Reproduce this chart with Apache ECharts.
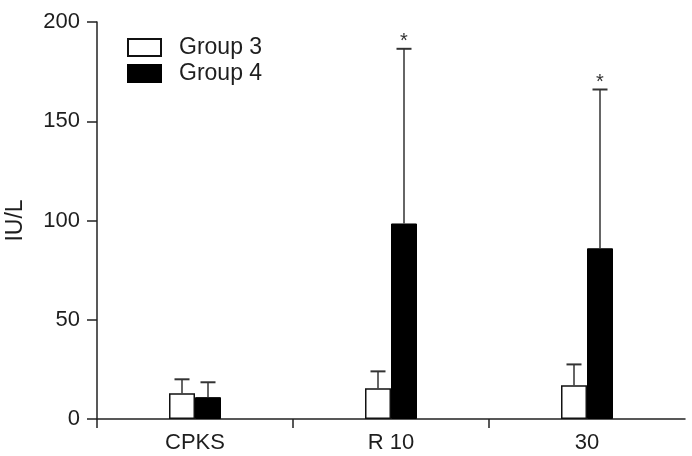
<!DOCTYPE html>
<html>
<head>
<meta charset="utf-8">
<script src="https://cdn.jsdelivr.net/npm/echarts@6/dist/echarts.min.js"></script>
<style>
html,body{margin:0;padding:0;background:#fff;}
#chart{width:692px;height:456px;}
</style>
</head>
<body>
<div id="chart"></div>
<script>
var categories = ['CPKS', 'R 10', '30'];
var seriesNames = ['Group 3', 'Group 4'];
var group3Mean = [13, 15.5, 17];
var group3SD = [7, 8.5, 10.5];
var group4Mean = [11, 98.5, 86];
var group4SD = [7.5, 88, 80];
var group3Sig = ['', '', ''];
var group4Sig = ['', '*', '*'];
var yTicks = [0, 50, 100, 150, 200];

var FONT = 'Liberation Sans, Arial, sans-serif';
var TXT = '#1e1e1e';
var BAR_W = 26;

function errData(mean, sd) {
  return categories.map(function (c, i) {
    return [i, mean[i], mean[i] + sd[i]];
  });
}

function makeErrRender(side, sig) {
  return function (params, api) {
    var idx = api.value(0);
    var top = api.coord([idx, api.value(2)]);
    var base = api.coord([idx, api.value(1)]);
    var x = top[0] + side * BAR_W / 2;
    var capHalf = 7.5;
    var children = [
      { type: 'line', shape: { x1: x, y1: base[1], x2: x, y2: top[1] },
        style: { stroke: '#333', lineWidth: 1.5 } },
      { type: 'line', shape: { x1: x - capHalf, y1: top[1], x2: x + capHalf, y2: top[1] },
        style: { stroke: '#333', lineWidth: 2 } }
    ];
    var s = sig[params.dataIndex];
    if (s) {
      children.push({ type: 'text', x: x, y: top[1] + 3,
        style: { text: s, fill: '#333', font: '20px ' + FONT, align: 'center', verticalAlign: 'bottom' } });
    }
    return { type: 'group', children: children };
  };
}

var chart = echarts.init(document.getElementById('chart'), null, { renderer: 'canvas' });
chart.setOption({
  animation: false,
  backgroundColor: '#fff',
  textStyle: { fontFamily: FONT },
  grid: { left: 97, right: 7, top: 22, bottom: 37, containLabel: false, outerBoundsMode: 'none' },
  legend: {
    data: seriesNames,
    orient: 'vertical',
    left: 127, top: 36,
    padding: 0,
    itemWidth: 33, itemHeight: 17, itemGap: 3,
    icon: 'rect',
    textStyle: { fontSize: 23, color: TXT, fontFamily: FONT, lineHeight: 17, padding: [0, 0, 0, 13] }
  },
  xAxis: [{
    type: 'category',
    data: categories,
    boundaryGap: true,
    axisLine: { show: false },
    axisTick: { show: false },
    axisLabel: { fontSize: 22, color: TXT, margin: 13, fontFamily: FONT }
  }, {
    type: 'value',
    min: 0, max: 3, interval: 1,
    position: 'bottom',
    axisLine: { show: true, onZero: false, lineStyle: { color: '#222', width: 1.5 } },
    axisTick: { show: true, length: 9, customValues: [0, 1, 2], lineStyle: { color: '#222', width: 1.5 } },
    axisLabel: { show: false },
    splitLine: { show: false }
  }],
  yAxis: {
    type: 'value',
    min: yTicks[0], max: yTicks[yTicks.length - 1], interval: 50,
    name: 'IU/L',
    nameLocation: 'middle',
    nameRotate: 90,
    nameGap: 70,
    nameTextStyle: { fontSize: 23, color: TXT, fontFamily: FONT },
    axisLine: { show: true, lineStyle: { color: '#222', width: 1.5 } },
    axisTick: { show: true, length: 10, lineStyle: { color: '#222', width: 1.5 } },
    axisLabel: { fontSize: 22, color: TXT, margin: 17, fontFamily: FONT },
    splitLine: { show: false }
  },
  series: [{
    name: seriesNames[0],
    type: 'bar',
    xAxisIndex: 0,
    data: group3Mean,
    barWidth: BAR_W,
    barGap: '0%',
    itemStyle: { color: '#fff', borderColor: '#111', borderWidth: 1.5 }
  }, {
    name: seriesNames[1],
    type: 'bar',
    xAxisIndex: 0,
    data: group4Mean,
    barWidth: BAR_W,
    barGap: '0%',
    itemStyle: { color: '#000', borderColor: '#000', borderWidth: 1 }
  }, {
    type: 'custom',
    xAxisIndex: 0,
    renderItem: makeErrRender(-1, group3Sig),
    data: errData(group3Mean, group3SD),
    encode: { x: 0, y: [1, 2] },
    z: 5, silent: true
  }, {
    type: 'custom',
    xAxisIndex: 0,
    renderItem: makeErrRender(1, group4Sig),
    data: errData(group4Mean, group4SD),
    encode: { x: 0, y: [1, 2] },
    z: 5, silent: true
  }]
});
</script>
</body>
</html>
